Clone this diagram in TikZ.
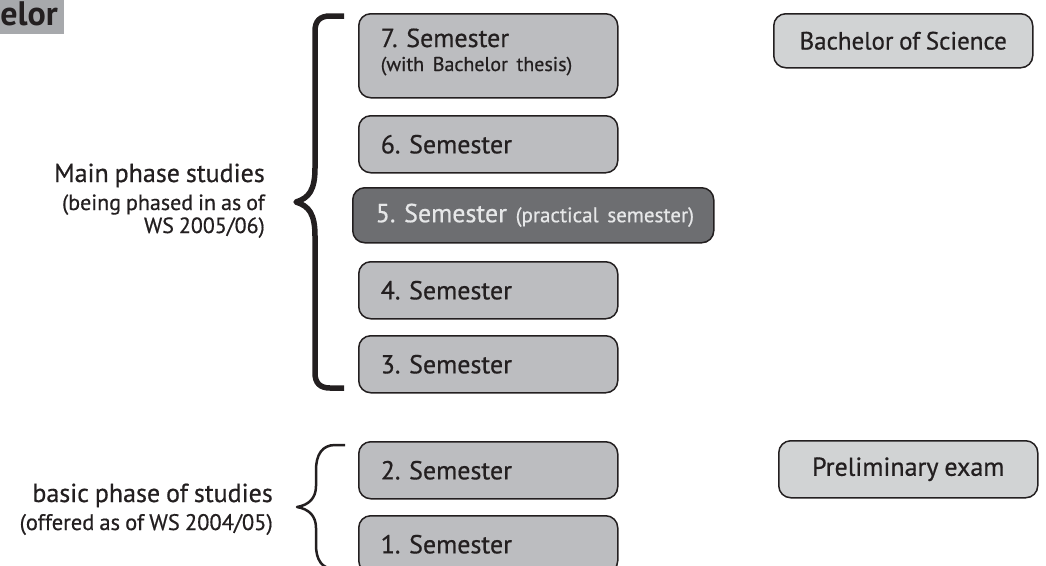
\documentclass[tikz,border=0pt]{standalone}
\usepackage{fontspec}
\setmainfont{PT Sans}[FakeBold=0.6, WordSpace=0.85, BoldFeatures={FakeBold=0}]
\usetikzlibrary{positioning}
\frenchspacing

\definecolor{ink}{HTML}{231F20}
\definecolor{semgray}{HTML}{BCBDC0}
\definecolor{darksem}{HTML}{6D6E71}
\definecolor{degreegray}{HTML}{D1D3D4}
\definecolor{tabgray}{HTML}{A7A9AC}
\definecolor{paletext}{HTML}{E6E7E8}

\tikzset{
  semester/.style={draw=ink, line width=1.5, rounded corners=12, fill=semgray,
    anchor=north west, minimum height=57, text width=215, inner xsep=22,
    inner ysep=0, align=left, text=ink, font=\fontsize{26}{30}\selectfont},
  degree/.style={draw=ink, line width=1.5, rounded corners=12, fill=degreegray,
    anchor=north west, minimum height=55, minimum width=259, inner sep=0,
    text=ink, font=\fontsize{25}{28}\selectfont},
  phase/.style={anchor=base east, inner sep=0, text=ink},
  brace/.style={draw=ink, line cap=butt, line join=round},
}

\begin{document}
\begin{tikzpicture}[x=1pt, y=-1pt]
	\useasboundingbox (0,0) rectangle (1046,565);
	\clip (0,0) rectangle (1046,565);

	% tab at the corner
	\fill[tabgray] (-20,-20) rectangle (64,34);
	\node[phase, font=\fontsize{34}{38}\selectfont\bfseries] (tab) at (58,25) {Bachelor};

	% semesters
	\node[semester, minimum height=84] (s7) at (358,13)
		{7. Semester\\[-6pt]{\fontsize{20}{24}\selectfont (with Bachelor thesis)\rule[-12pt]{0pt}{12pt}}};
	\node[semester] (s6) at (358,115) {6. Semester};
	\node[semester, fill=darksem, text=paletext, text width=315, inner xsep=23, minimum height=55] (s5) at (352,187)
		{\mbox{5. Semester {\fontsize{21}{24}\selectfont (practical semester)}}};
	\node[semester] (s4) at (358,261) {4. Semester};
	\node[semester] (s3) at (358,335) {3. Semester};
	\node[semester] (s2) at (358,441) {2. Semester};
	\node[semester] (s1) at (358,515) {1. Semester};

	% degrees
	\node[degree, minimum height=54] (bsc) at (773,13) {Bachelor of Science};
	\node[degree, minimum height=57, font=\fontsize{26}{30}\selectfont] (prelim) at (778,440) {Preliminary exam};

	% phase labels
	\node[phase, font=\fontsize{26}{30}\selectfont] (mainlbl) at (265,182) {Main phase studies};
	\node[phase, font=\fontsize{22}{24}\selectfont] (mainsub) at (265,210) {(being phased in as of};
	\node[phase, font=\fontsize{22}{24}\selectfont] (mainws) at (265,233) {WS 2005/06)};
	\node[phase, font=\fontsize{26}{30}\selectfont] (basiclbl) at (273,502) {basic phase of studies};
	\node[phase, font=\fontsize{22.5}{24}\selectfont] (basicsub) at (273,530) {(offered as of WS 2004/05)};

	% braces
	\draw[brace, line width=5.5] (344,16) -- (330,16) .. controls (320,16) and (315,21) .. (315,31)
		-- (315,168) .. controls (315,190) and (309,198) .. (296,202)
		.. controls (309,206) and (315,214) .. (315,236)
		-- (315,373) .. controls (315,383) and (320,388) .. (330,388) -- (344,388);
	\draw[brace, line width=2.5] (345,445) -- (335,445) .. controls (322,445) and (316,455) .. (316,470)
		-- (316,486) .. controls (316,498) and (309,505) .. (297,507)
		.. controls (309,509) and (316,516) .. (316,528)
		-- (316,545) .. controls (316,560) and (322,569) .. (335,569);

\end{tikzpicture}
\end{document}
